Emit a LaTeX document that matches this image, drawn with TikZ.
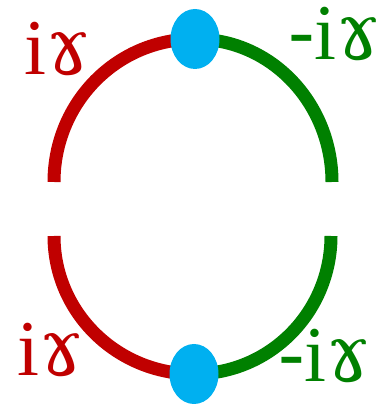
\documentclass[tikz,border=0pt]{standalone}
\usepackage{fontspec}
\setmainfont{Liberation Serif}
\newfontfamily\gamfont{DejaVu Serif}
\usetikzlibrary{shapes.geometric,backgrounds}
\definecolor{arcred}{HTML}{C00000}
\definecolor{arcgreen}{HTML}{008000}
\definecolor{dotblue}{HTML}{00B0F0}
\newcommand{\ram}{{\gamfont ɤ}}
\newcommand{\mns}{{\gamfont -}}

\begin{document}
\begin{tikzpicture}[
   x=1pt,y=1pt,
   vertex/.style={ellipse,fill=dotblue,minimum width=49pt,minimum height=60pt,inner sep=0pt},
   half/.style={line width=13pt},
   lbl/.style={font=\fontsize{79}{81}\selectfont,anchor=base west,inner sep=0pt},
]
\useasboundingbox (0,0) rectangle (389,404);
\node[vertex] (top) at (195,365) {};
\node[vertex] (bot) at (194,30) {};
\coordinate (tl) at (54,222);
\coordinate (tr) at (332,222);
\coordinate (bl) at (54,168);
\coordinate (br) at (331,168);

\node[lbl,arcred] (lbltl) at (24,329) {i\ram};
\node[lbl,arcgreen] (lbltr) at (288,344) {\mns i\ram};
\node[lbl,arcred] (lblbl) at (17,28) {i\ram};
\node[lbl,arcgreen] (lblbr) at (278,22) {\mns i\ram};

\begin{scope}[on background layer]
\draw[half,arcred] (tl) to[out=90,in=180] (top.center);
\draw[half,arcgreen] (tr) to[out=90,in=0] (top.center);
\draw[half,arcred] (bl) to[out=-90,in=180] (bot.center);
\draw[half,arcgreen] (br) to[out=-90,in=0] (bot.center);
\end{scope}
\end{tikzpicture}
\end{document}
